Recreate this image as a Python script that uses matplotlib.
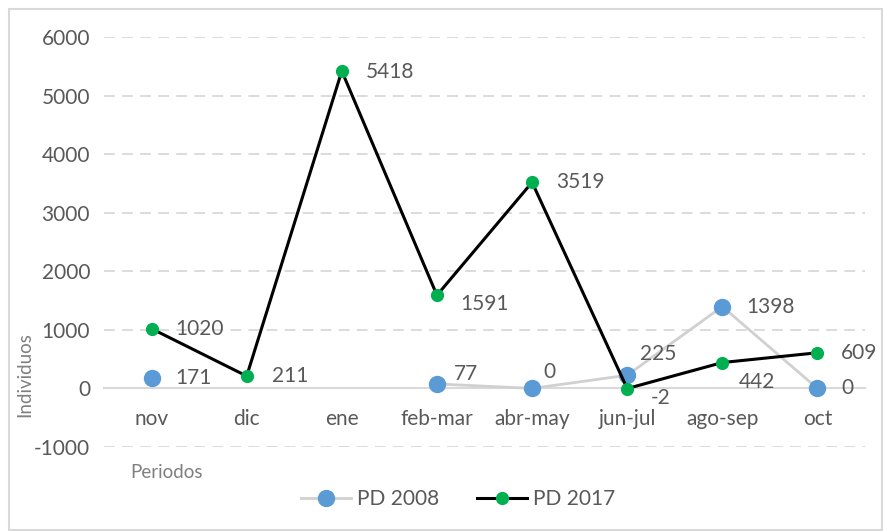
import numpy as np
import matplotlib
matplotlib.use("Agg")
import matplotlib.pyplot as plt
from matplotlib.patches import Rectangle

plt.rcParams['font.family'] = ['Lato', 'DejaVu Sans']
plt.rcParams['axes.unicode_minus'] = False

periodos = ["nov", "dic", "ene", "feb-mar", "abr-may", "jun-jul", "ago-sep", "oct"]
pd_2008 = [171, np.nan, np.nan, 77, 0, 225, 1398, 0]
pd_2017 = [1020, 211, 5418, 1591, 3519, -2, 442, 609]

# label offsets in points (dx, dy) so the numbers sit where the original has them
off_2008 = [(17, 0), None, None, (12, 7), (8, 12), (9, 15), (17, 0), (17, 0)]
off_2017 = [(17, 0), (18, 0), (17, -1), (17, -6), (17, 0), (17, -7), (12, -14), (17, 0)]

txt = "#595959"
fig = plt.figure(figsize=(8.83, 5.31), dpi=100)
ax = fig.add_axes([104 / 883, 1 - 447 / 531, 761 / 883, 410 / 531])

x = np.arange(len(periodos))
ax.plot(x, pd_2008, color="#d0d0d0", lw=2, marker="o", ms=11.5,
        mfc="#5b9bd5", mec="#5b9bd5", label="PD 2008", zorder=3)
ax.plot(x, pd_2017, color="black", lw=2.2, marker="o", ms=8.5,
        mfc="#00b050", mec="#00b050", label="PD 2017", zorder=4)

for xi, v, o in zip(x, pd_2008, off_2008):
    if o is None or np.isnan(v):
        continue
    ax.annotate(f"{v:.0f}", (xi, v), xytext=o, textcoords="offset points",
                ha="left", va="center", fontsize=15, color=txt, zorder=5)
for xi, v, o in zip(x, pd_2017, off_2017):
    ax.annotate(f"{v:.0f}", (xi, v), xytext=o, textcoords="offset points",
                ha="left", va="center", fontsize=15, color=txt, zorder=5)

ax.set_xlim(-0.5, len(periodos) - 0.5)
ax.set_ylim(-1000, 6000)
ax.set_yticks(range(-1000, 6001, 1000))
ax.set_xticks(x)
ax.set_xticklabels(periodos)
ax.tick_params(axis="both", length=0, labelsize=15, labelcolor=txt)
ax.tick_params(axis="x", pad=15)
ax.tick_params(axis="y", pad=10)

for s in ["top", "right", "left"]:
    ax.spines[s].set_visible(False)
ax.spines["bottom"].set_position(("data", 0))
ax.spines["bottom"].set_color("#d9d9d9")
ax.spines["bottom"].set_linewidth(1.5)

for yv in range(-1000, 6001, 1000):
    if yv == 0:
        continue
    ax.axhline(yv, color="#d9d9d9", lw=1.3, ls=(0, (6, 4)), zorder=1)

fig.text(25 / 883, 1 - 375 / 531, "Individuos", rotation=90, ha="center",
         va="center", fontsize=13.5, color="#7f7f7f")
fig.text(166 / 883, 1 - 472 / 531, "Periodos", ha="center", va="center",
         fontsize=13.5, color="#7f7f7f")

leg = fig.legend(loc="center", bbox_to_anchor=(458 / 883, 1 - 499 / 531), ncol=2,
                 frameon=False, fontsize=15, handlelength=2.4, columnspacing=1.8,
                 handletextpad=0.3)
for t in leg.get_texts():
    t.set_color(txt)

fig.patches.append(Rectangle((9 / 883, 0.002), 873 / 883, 1 - 9 / 531 - 0.002,
                             transform=fig.transFigure, fill=False,
                             edgecolor="#d9d9d9", lw=1.5))

fig.savefig("out.png", dpi=100)
